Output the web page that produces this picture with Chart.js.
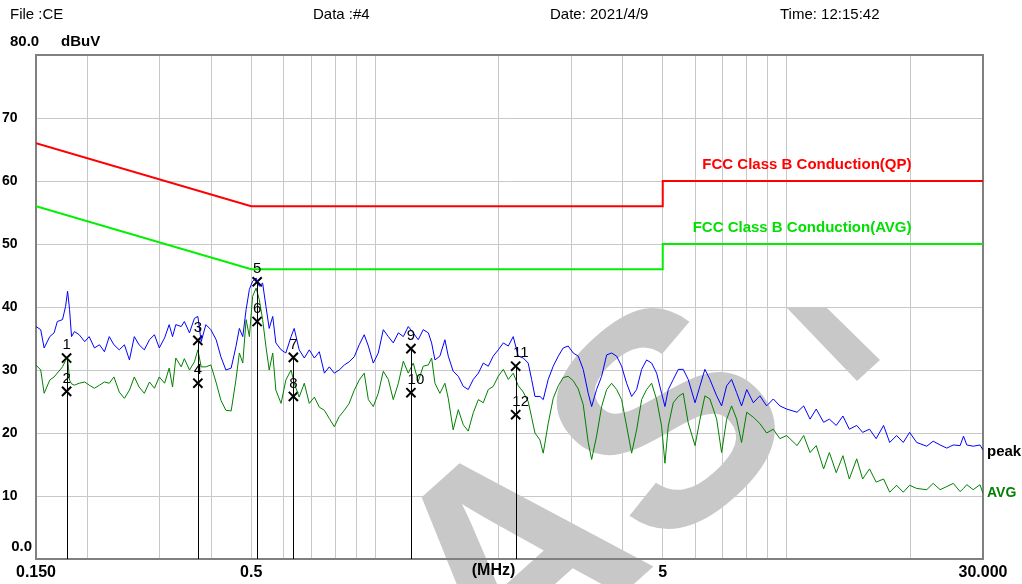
<!DOCTYPE html>
<html>
<head>
<meta charset="utf-8">
<script src="https://cdn.jsdelivr.net/npm/chart.js@4/dist/chart.umd.min.js"></script>
<style>
html,body{margin:0;padding:0;background:#ffffff;}
#wrap{width:1022px;height:584px;position:relative;}
</style>
</head>
<body>
<div id="wrap"><canvas id="c" width="1022" height="584"></canvas></div>
<script>
// ---------- DATA ----------
const freqMHz = [
  0.150,0.154,0.157,0.162,0.166,0.169,0.174,0.177,0.179,0.181,
  0.183,0.186,0.191,0.197,0.202,0.208,0.214,0.220,0.226,0.232,
  0.239,0.246,0.253,0.260,0.267,0.275,0.283,0.291,0.299,0.308,
  0.316,0.322,0.328,0.338,0.344,0.354,0.364,0.371,0.378,0.388,
  0.399,0.411,0.422,0.434,0.447,0.459,0.468,0.477,0.486,0.495,
  0.504,0.514,0.523,0.533,0.543,0.553,0.564,0.574,0.591,0.607,
  0.625,0.636,0.654,0.673,0.692,0.712,0.732,0.753,0.774,0.796,
  0.818,0.842,0.865,0.890,0.915,0.941,
  0.963,0.990,1.018,1.047,1.077,1.107,1.139,1.171,1.204,1.238,
  1.273,1.309,1.347,1.372,1.398,1.437,1.478,1.506,1.548,1.593,
  1.638,1.684,1.732,1.782,1.832,1.884,1.937,1.992,2.049,2.107,
  2.166,2.228,2.291,2.355,2.401,2.446,2.515,2.562,2.634,2.709,
  2.787,2.865,2.946,3.030,3.116,3.204,3.295,3.359,3.453,3.552,
  3.653,3.756,3.863,3.972,4.085,4.201,4.320,4.443,4.569,4.698,
  4.832,4.968,5.062,5.157,5.303,5.454,5.607,5.766,
  5.99,6.16,6.33,6.51,6.76,6.95,7.15,7.35,7.56,7.77,
  8.00,8.30,8.61,8.94,9.28,9.63,10.0,10.6,11.0,11.4,
  11.8,12.3,12.7,13.2,13.7,14.2,14.8,15.3,15.9,16.5,
  17.2,17.8,18.5,19.2,19.9,20.7,21.9,22.7,23.6,24.5,
  25.4,26.4,26.9,27.4,28.4,29.5,30.0
];
const peakDbuV = [
  36.9,36.4,33.5,35.3,35.9,37.7,38.0,40.1,42.5,39.6,
  35.3,36.1,35.6,34.5,35.3,33.5,34.0,32.9,35.3,34.0,
  33.2,34.0,31.6,35.3,34.0,33.2,34.8,35.6,33.5,35.1,
  37.2,35.3,37.2,36.9,37.7,35.9,38.2,38.5,34.5,37.2,
  36.4,34.8,32.1,30.0,30.3,33.7,36.6,35.3,39.6,42.8,
  44.1,44.6,43.3,43.8,40.1,36.6,38.5,34.3,33.2,32.7,
  35.3,36.6,33.2,31.9,33.2,31.9,32.9,29.5,30.5,29.5,
  30.0,30.8,31.3,32.1,34.0,35.6,
  33.8,31.1,32.7,36.4,35.3,34.3,35.9,35.3,36.9,35.9,
  34.8,36.4,35.9,34.3,31.6,32.2,34.8,32.2,29.8,29.0,
  27.4,26.9,28.5,29.5,31.1,30.6,32.2,33.2,34.3,33.8,
  35.3,32.2,31.9,31.1,28.5,25.8,25.8,25.3,28.5,30.6,
  32.2,33.5,33.8,32.7,32.2,30.1,26.3,24.2,26.9,29.0,
  32.4,32.7,32.2,30.6,27.9,25.8,26.9,30.1,31.6,31.1,
  29.5,26.3,24.2,26.9,28.5,30.1,30.1,28.5,
  24.8,27.5,30.1,28.5,25.9,24.3,27.5,28.5,26.4,24.3,
  26.9,24.8,25.9,24.3,25.4,24.3,23.8,23.3,24.3,22.2,
  23.8,21.7,22.2,21.2,22.7,20.6,21.2,20.1,20.6,19.1,
  21.2,18.5,19.6,18.5,20.1,18.5,17.9,18.7,18.1,17.6,
  18.1,18.0,19.5,18.1,17.9,18.1,17.3
];
const avgDbuV = [
  30.8,30.0,26.3,28.4,28.9,29.5,30.5,31.5,31.9,28.4,
  27.8,27.6,27.9,28.1,27.6,27.1,27.6,28.1,27.9,28.9,
  26.5,25.5,26.8,28.9,27.3,26.3,28.1,27.1,28.9,27.9,
  30.3,27.3,31.9,30.5,31.8,30.0,31.3,33.2,30.5,30.5,
  30.8,28.0,25.2,23.6,23.5,28.4,32.7,31.1,38.0,35.3,
  41.7,43.0,41.2,38.0,33.7,30.0,32.7,26.8,24.7,28.4,
  30.0,27.9,25.7,27.9,24.7,25.7,24.1,23.6,22.3,21.0,
  22.6,23.6,24.7,26.8,28.4,29.5,
  25.3,24.2,26.3,29.8,28.5,25.3,27.9,31.4,29.5,31.1,
  28.2,30.6,30.8,31.9,27.9,26.3,27.9,25.5,20.5,23.7,
  21.3,20.3,23.2,25.3,24.8,26.9,27.4,29.0,30.1,28.5,
  29.5,27.5,26.5,25.0,22.5,20.0,18.9,16.8,21.5,25.5,
  27.5,28.8,29.0,28.3,27.0,24.5,18.5,15.8,19.5,24.2,
  26.9,27.9,26.9,25.3,21.1,16.8,20.5,25.3,26.9,27.9,
  25.3,21.1,15.2,21.1,24.8,25.8,26.3,21.6,
  18.0,22.2,25.9,25.4,22.2,16.9,22.2,24.3,22.2,18.5,
  23.3,22.5,21.5,20.0,20.6,19.1,19.6,18.0,19.6,16.9,
  18.0,14.3,16.9,13.7,16.4,12.7,15.9,12.7,14.3,12.2,
  12.7,10.6,11.7,10.6,11.7,11.2,11.0,12.0,11.0,11.5,
  12.0,10.7,11.2,11.8,11.0,11.8,10.4
];
const qpLimitFreq  = [0.15, 0.5, 5, 5, 30];
const qpLimitLevel = [66, 56, 56, 60, 60];
const avLimitFreq  = [0.15, 0.5, 5, 5, 30];
const avLimitLevel = [56, 46, 46, 50, 50];

const markerFreq   = [0.178,0.178,0.371,0.371,0.517,0.517,0.633,0.633,1.222,1.222,2.196,2.196];
const markerLevel  = [31.9,26.6,34.7,27.9,44.0,37.7,32.0,25.8,33.4,26.4,30.6,22.9];
const markerLabels = ['1','2','3','4','5','6','7','8','9','10','11','12'];

const xGridFreq  = [0.15,0.2,0.3,0.4,0.5,0.6,0.7,0.8,0.9,1,2,3,4,5,6,7,8,9,10,20,30];
const xTickValues = [0.15, 0.5, 5, 30];
const xTickLabels = ['0.150', '0.5', '5', '30.000'];
const xUnitLabel = '(MHz)';
const yTickValues = [10,20,30,40,50,60,70];
const yBottomLabel = '0.0';
const yTopLabel = '80.0';
const yUnitLabel = 'dBuV';
const headerTexts = ['File :CE', 'Data :#4', 'Date: 2021/4/9', 'Time: 12:15:42'];
const limitNames = ['FCC Class B Conduction(QP)', 'FCC Class B Conduction(AVG)'];
const traceNames = ['peak', 'AVG'];
const watermarkText = ['A', 'S'];

// ---------- CHART ----------
const FONT = '"Liberation Sans", Arial, sans-serif';
Chart.defaults.font.family = FONT;

const pts = (xs, ys) => xs.map((x, i) => ({x: x, y: ys[i]}));

const overlay = {
  id: 'overlay',
  beforeDatasetsDraw(chart) {
    const {ctx, chartArea: a} = chart;
    // watermark
    ctx.save();
    ctx.fillStyle = '#c8c8c8';
    ctx.font = 'bold 300px ' + FONT;
    ctx.translate(678, 433);
    ctx.rotate(-42 * Math.PI / 180);
    ctx.textAlign = 'center';
    ctx.textBaseline = 'middle';
    ctx.fillText(watermarkText[0], -208, 0);
    ctx.fillText(watermarkText[1], 0, 0);
    ctx.restore();
    ctx.save();
    ctx.fillStyle = '#c8c8c8';
    ctx.beginPath();
    ctx.moveTo(787, 308); ctx.lineTo(827, 308); ctx.lineTo(880, 360); ctx.lineTo(857, 381);
    ctx.closePath(); ctx.fill();
    ctx.restore();
    // frame
    ctx.save();
    ctx.strokeStyle = '#808080';
    ctx.lineWidth = 2;
    ctx.strokeRect(a.left, a.top, a.right - a.left, a.bottom - a.top);
    ctx.restore();
  },
  afterDatasetsDraw(chart) {
    const {ctx} = chart;
    const xs = chart.scales.x, ys = chart.scales.y;
    ctx.save();
    ctx.strokeStyle = '#000';
    ctx.lineWidth = 1;
    const y0 = ys.getPixelForValue(0);
    markerFreq.forEach((f, i) => {
      const px = Math.round(xs.getPixelForValue(f)) + 0.5;
      ctx.beginPath();
      ctx.moveTo(px, ys.getPixelForValue(markerLevel[i]));
      ctx.lineTo(px, y0);
      ctx.stroke();
    });
    ctx.fillStyle = '#000';
    ctx.font = '15px ' + FONT;
    ctx.textAlign = 'center';
    ctx.textBaseline = 'middle';
    markerFreq.forEach((f, i) => {
      const px = xs.getPixelForValue(f) + (markerLabels[i].length > 1 ? 5 : 0);
      ctx.fillText(markerLabels[i], px, ys.getPixelForValue(markerLevel[i]) - 13);
    });
    ctx.restore();
  },
  afterDraw(chart) {
    const {ctx, chartArea: a} = chart;
    const xs = chart.scales.x, ys = chart.scales.y;
    ctx.save();
    ctx.fillStyle = '#000';
    ctx.textBaseline = 'middle';
    // header
    ctx.font = '15px ' + FONT;
    ctx.textAlign = 'left';
    const hx = [10, 313, 550, 780];
    headerTexts.forEach((t, i) => ctx.fillText(t, hx[i], 15));
    // y end labels
    ctx.font = 'bold 15px ' + FONT;
    ctx.fillText(yTopLabel, 10, 42);
    ctx.fillText(yUnitLabel, 61, 42);
    ctx.textAlign = 'right';
    ctx.fillText(yBottomLabel, 32, ys.getPixelForValue(0) - 12);
    // x unit
    ctx.font = 'bold 16px ' + FONT;
    ctx.textAlign = 'center';
    ctx.fillText(xUnitLabel, (a.left + a.right) / 2 - 16, 571);
    // limit names
    ctx.font = 'bold 15px ' + FONT;
    ctx.textAlign = 'right';
    const lx = xs.getPixelForValue(20) + 1;
    ctx.fillStyle = '#ff0000';
    ctx.fillText(limitNames[0], lx, ys.getPixelForValue(qpLimitLevel[4]) - 16);
    ctx.fillStyle = '#00e000';
    ctx.fillText(limitNames[1], lx, ys.getPixelForValue(avLimitLevel[4]) - 16);
    // trace names
    ctx.textAlign = 'left';
    ctx.font = 'bold 15px ' + FONT;
    ctx.fillStyle = '#000';
    ctx.fillText(traceNames[0], a.right + 4, ys.getPixelForValue(peakDbuV[peakDbuV.length - 1]) + 2);
    ctx.fillStyle = '#008000';
    ctx.font = 'bold 14px ' + FONT;
    ctx.fillText(traceNames[1], a.right + 4, ys.getPixelForValue(avgDbuV[avgDbuV.length - 1]));
    ctx.restore();
  }
};

new Chart(document.getElementById('c'), {
  type: 'line',
  data: {
    datasets: [
      {label: 'QP limit', data: pts(qpLimitFreq, qpLimitLevel), borderColor: '#ff0000', borderWidth: 2, pointRadius: 0, tension: 0},
      {label: 'AVG limit', data: pts(avLimitFreq, avLimitLevel), borderColor: '#00f000', borderWidth: 2, pointRadius: 0, tension: 0},
      {label: 'AVG', data: pts(freqMHz, avgDbuV), borderColor: '#008000', borderWidth: 1, pointRadius: 0, tension: 0},
      {label: 'peak', data: pts(freqMHz, peakDbuV), borderColor: '#0000ff', borderWidth: 1, pointRadius: 0, tension: 0},
      {label: 'markers', type: 'scatter', data: pts(markerFreq, markerLevel), showLine: false,
       pointStyle: 'crossRot', pointRadius: 6.5, borderColor: '#000', borderWidth: 2, backgroundColor: '#000'}
    ]
  },
  options: {
    responsive: false,
    animation: false,
    events: [],
    layout: {padding: {left: 2, right: 39, top: 55, bottom: 0}},
    plugins: {legend: {display: false}, tooltip: {enabled: false}, title: {display: false}},
    scales: {
      x: {
        type: 'logarithmic',
        min: 0.15, max: 30,
        afterBuildTicks: (s) => { s.ticks = xGridFreq.map(v => ({value: v})); },
        afterFit: (s) => { s.height = 25; },
        ticks: {
          autoSkip: false, maxRotation: 0, minRotation: 0, padding: 4,
          color: '#000', font: {size: 16, weight: 'bold'},
          callback: (v) => { const k = xTickValues.indexOf(v); return k >= 0 ? xTickLabels[k] : ''; }
        },
        grid: {
          drawTicks: false,
          color: (c) => (c.tick && (c.tick.value === 0.15 || c.tick.value === 30)) ? 'rgba(0,0,0,0)' : '#c8c8c8',
          lineWidth: 1
        },
        border: {display: false}
      },
      y: {
        type: 'linear',
        min: 0, max: 80,
        afterFit: (s) => { s.width = 34; },
        ticks: {
          stepSize: 10, crossAlign: 'far', padding: 0,
          color: '#000', font: {size: 14, weight: 'bold'},
          callback: (v) => yTickValues.indexOf(v) >= 0 ? String(v) : ''
        },
        grid: {drawTicks: false, color: '#c8c8c8', lineWidth: 1},
        border: {display: false}
      }
    }
  },
  plugins: [overlay]
});
</script>
</body>
</html>
